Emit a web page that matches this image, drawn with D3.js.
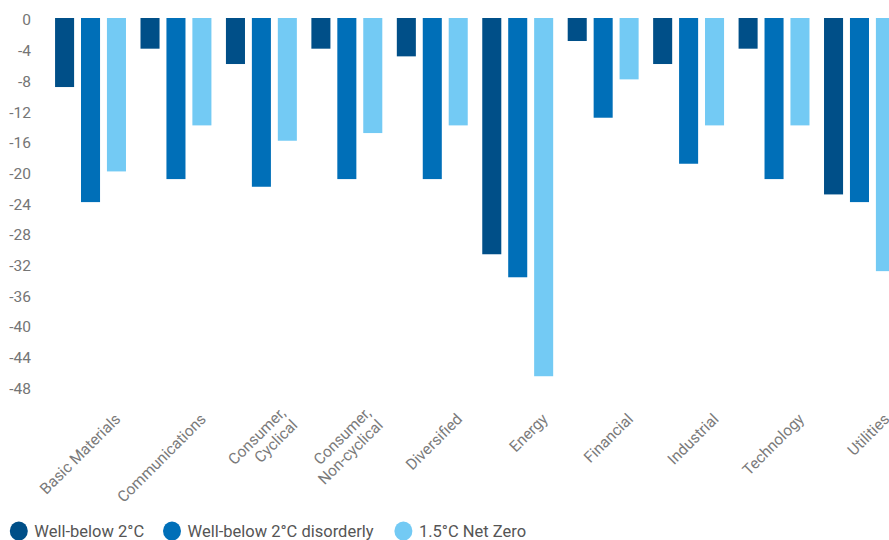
<!DOCTYPE html>
<html>
<head>
<meta charset="utf-8">
<script src="https://cdn.jsdelivr.net/npm/d3@7"></script>
<style>
  html, body { margin: 0; padding: 0; background: #ffffff; }
  svg { display: block; font-family: Roboto, "Noto Sans", sans-serif; }
</style>
</head>
<body>
<svg id="chart" width="889" height="540"></svg>
<script>
// ---- data ----
const categories = ["Basic Materials", "Communications", "Consumer,\nCyclical", "Consumer,\nNon-cyclical",
  "Diversified", "Energy", "Financial", "Industrial", "Technology", "Utilities"];
const seriesNames = ["Well-below 2°C", "Well-below 2°C disorderly", "1.5°C Net Zero"];
const wellBelow2 = [-9, -4, -6, -4, -5, -30.8, -3, -6, -4, -23];
const wellBelow2Disorderly = [-24, -21, -22, -21, -21, -33.8, -13, -19, -21, -24];
const netZero15 = [-20, -14, -16, -15, -14, -46.7, -8, -14, -14, -33];
const yTicks = [0, -4, -8, -12, -16, -20, -24, -28, -32, -36, -40, -44, -48];
const colors = ["#004f88", "#006fb8", "#73caf4"];

const seriesValues = [wellBelow2, wellBelow2Disorderly, netZero15];
const rows = categories.map((c, i) => ({ cat: c, vals: seriesValues.map((s, k) => ({ k, v: s[i] })) }));

const svg = d3.select("#chart");

const x0 = d3.scaleBand().domain(categories).range([47.8, 902.2]).paddingInner(0.17).paddingOuter(0.085);
const x1 = d3.scaleBand().domain([0, 1, 2]).range([0, x0.bandwidth()]).paddingInner(0.266).paddingOuter(0);
const y = d3.scaleLinear().domain([0, -48]).range([18, 386.2]);

// y axis
const yAxis = svg.append("g").attr("transform", "translate(31,0)")
  .call(d3.axisLeft(y).tickValues(yTicks).tickSize(0).tickPadding(0).tickFormat(d => String(d)));
yAxis.select(".domain").remove();
yAxis.selectAll("text").attr("font-size", 15.5).attr("fill", "#757575")
  .attr("font-family", "Roboto, sans-serif").attr("dy", "0.45em");

// bars
const groups = svg.append("g").selectAll("g").data(rows).join("g")
  .attr("transform", d => `translate(${x0(d.cat)},0)`);
groups.selectAll("rect").data(d => d.vals).join("rect")
  .attr("x", d => x1(d.k))
  .attr("width", x1.bandwidth())
  .attr("y", d => y(Math.max(0, d.v)))
  .attr("height", d => Math.abs(y(d.v) - y(0)))
  .attr("fill", d => colors[d.k]);

// x axis labels
const xAxis = svg.append("g").attr("transform", "translate(0,0)")
  .call(d3.axisBottom(x0).tickSize(0).tickFormat(""));
xAxis.select(".domain").remove();
xAxis.selectAll(".tick text").remove();
const lh = 17;
xAxis.selectAll(".tick").each(function(d) {
  const lines = d.split("\n");
  const t = d3.select(this).append("text")
    .attr("transform", "translate(31,420) rotate(-45)")
    .attr("text-anchor", "end")
    .attr("font-size", 15.5)
    .attr("fill", "#7a7a7a")
    .attr("font-family", "Roboto, sans-serif");
  lines.forEach((ln, i) => {
    t.append("tspan").attr("x", 0).attr("y", (i - (lines.length - 1) / 2) * lh).text(ln);
  });
});

// legend
const legend = svg.append("g").attr("transform", "translate(0,531)");
const legendX = [18.8, 172, 403.4];
seriesNames.forEach((name, i) => {
  const g = legend.append("g").attr("transform", `translate(${legendX[i]},0)`);
  g.append("ellipse").attr("rx", 9).attr("ry", 9.6).attr("fill", colors[i]);
  g.append("text").attr("x", 15.5).attr("dy", "0.36em")
    .attr("font-size", 16.5).attr("fill", "#555555")
    .attr("font-family", "Roboto, sans-serif").text(name);
});
</script>
</body>
</html>
